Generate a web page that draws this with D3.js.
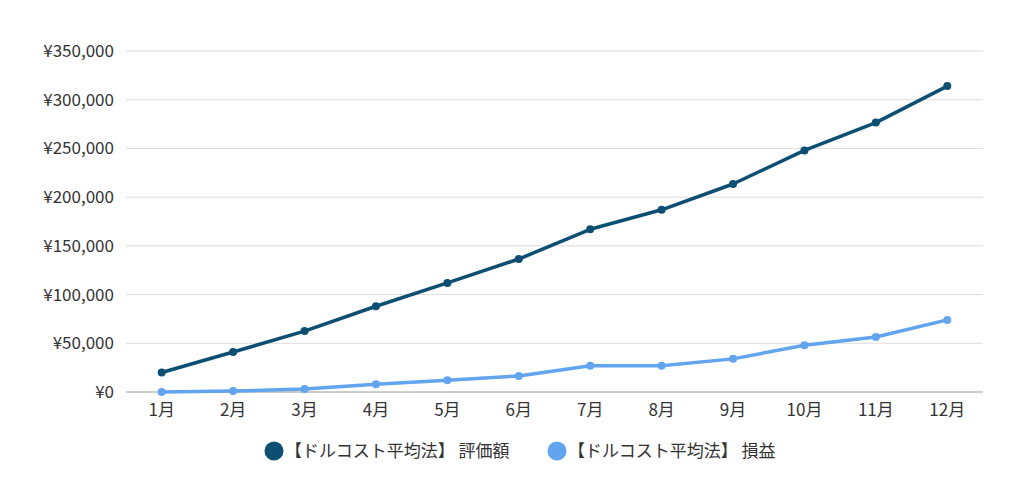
<!DOCTYPE html>
<html>
<head>
<meta charset="utf-8">
<script src="https://cdn.jsdelivr.net/npm/d3@7"></script>
<style>
  body { margin: 0; background: #fff; }
  svg { font-family: "Noto Sans CJK JP", "Noto Sans", sans-serif; }
</style>
</head>
<body>
<svg id="chart"></svg>
<script>
const months = ['1月','2月','3月','4月','5月','6月','7月','8月','9月','10月','11月','12月'];
const valuation = [20000, 41000, 62500, 88000, 112000, 136500, 167000, 187000, 213500, 248000, 276500, 314000];
const profit = [0, 1000, 3000, 8000, 12000, 16500, 27000, 27000, 34000, 48000, 56500, 74000];
const yTicks = [0, 50000, 100000, 150000, 200000, 250000, 300000, 350000];
const seriesNames = ['【ドルコスト平均法】 評価額', '【ドルコスト平均法】 損益'];
const seriesColors = ['#0d4f72', '#62a4ee'];

const width = 1024,
  height = 488,
  margin = {top: 51, right: 41, bottom: 96, left: 126};

const svg = d3.select('#chart')
  .attr('width', width)
  .attr('height', height);

const x = d3.scaleBand()
  .domain(months)
  .range([margin.left, width - margin.right]);

const y = d3.scaleLinear()
  .domain([0, 350000])
  .range([height - margin.bottom, margin.top]);

// gridlines
svg.append('g')
  .selectAll('line')
  .data(yTicks)
  .enter().append('line')
  .attr('x1', margin.left)
  .attr('x2', width - margin.right)
  .attr('y1', d => y(d))
  .attr('y2', d => y(d))
  .attr('stroke', d => d === 0 ? '#9a9a9a' : '#dcdcdc')
  .attr('stroke-width', 1);

// y labels
svg.append('g')
  .selectAll('text')
  .data(yTicks)
  .enter().append('text')
  .attr('x', margin.left - 12)
  .attr('y', d => y(d))
  .attr('dy', '0.35em')
  .attr('text-anchor', 'end')
  .attr('font-size', 17)
  .attr('fill', '#333')
  .text(d => '¥' + d3.format(',')(d));

// x labels
svg.append('g')
  .selectAll('text')
  .data(months)
  .enter().append('text')
  .attr('x', d => x(d) + x.bandwidth() / 2)
  .attr('y', height - margin.bottom + 24)
  .attr('text-anchor', 'middle')
  .attr('font-size', 17)
  .attr('fill', '#333')
  .text(d => d);

const line = d3.line()
  .x((d, i) => x(months[i]) + x.bandwidth() / 2)
  .y(d => y(d));

[valuation, profit].forEach((series, k) => {
  const g = svg.append('g');
  g.append('path')
    .datum(series)
    .attr('d', line)
    .attr('fill', 'none')
    .attr('stroke', seriesColors[k])
    .attr('stroke-width', 3.5)
    .attr('stroke-linejoin', 'round');
  g.selectAll('circle')
    .data(series)
    .enter().append('circle')
    .attr('cx', (d, i) => x(months[i]) + x.bandwidth() / 2)
    .attr('cy', d => y(d))
    .attr('r', 4)
    .attr('fill', seriesColors[k]);
});

// legend
const legendX = [274, 557];
const legend = svg.append('g')
  .selectAll('g')
  .data(seriesNames)
  .enter().append('g')
  .attr('transform', (d, i) => `translate(${legendX[i]},451)`);

legend.append('circle')
  .attr('r', 9.5)
  .attr('fill', (d, i) => seriesColors[i]);

legend.append('text')
  .attr('x', 11)
  .attr('dy', '0.35em')
  .attr('font-size', 17)
  .attr('fill', '#333')
  .text(d => d);
</script>
</body>
</html>
